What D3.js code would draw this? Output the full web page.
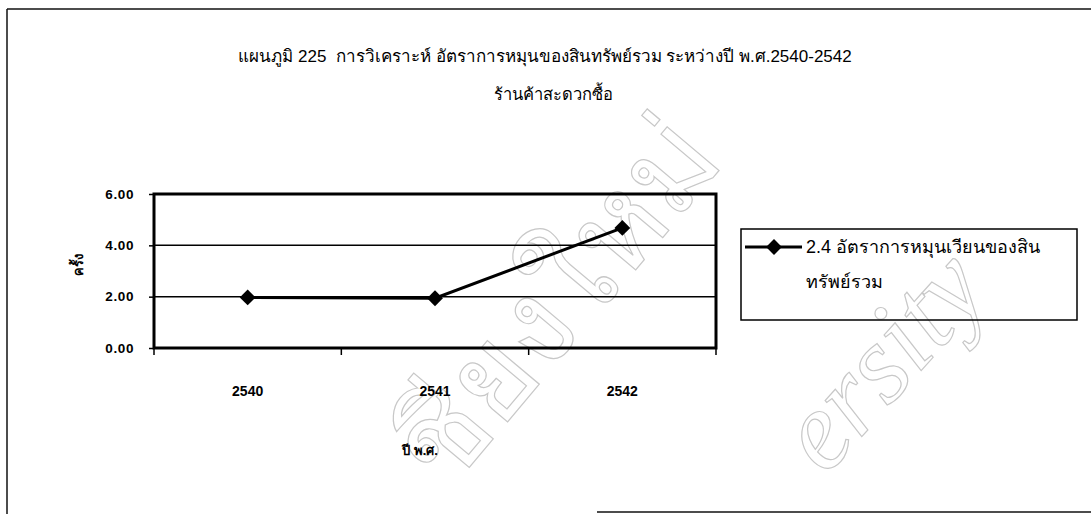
<!DOCTYPE html>
<html>
<head>
<meta charset="utf-8">
<script src="https://cdn.jsdelivr.net/npm/d3@7"></script>
<style>
  html, body { margin: 0; padding: 0; background: #fff; }
  svg { display: block; }
  text { font-family: Arial, "Liberation Sans", "Noto Sans", sans-serif; fill: #000; white-space: pre; }
</style>
</head>
<body>
<svg id="chart" width="1091" height="514"></svg>
<script>
// Years (Buddhist era) on the x axis
const years = ["2540", "2541", "2542"];
// Total asset turnover ratio (times)
const turnover = [1.97, 1.94, 4.68];
// y-axis tick values
const yTicks = [0, 2, 4, 6];

const titleText = "แผนภูมิ 225  การวิเคราะห์ อัตราการหมุนของสินทรัพย์รวม ระหว่างปี พ.ศ.2540-2542";
const subtitleText = "ร้านค้าสะดวกซื้อ";
const seriesName = ["2.4 อัตราการหมุนเวียนของสิน", "ทรัพย์รวม"];
const xTitle = "ปี พ.ศ.";
const yTitle = "ครั้ง";
const watermarkTh = "ชียงใหม่";
const watermarkEn = "ersity";

const svg = d3.select("#chart");

// page frame
const frame = svg.append("g").attr("stroke", "#111").attr("stroke-width", 1.5).attr("fill", "none");
frame.append("line").attr("x1", 7).attr("y1", 9).attr("x2", 1091).attr("y2", 9);
frame.append("line").attr("x1", 7).attr("y1", 9).attr("x2", 7).attr("y2", 514);
frame.append("line").attr("x1", 597).attr("y1", 512).attr("x2", 1091).attr("y2", 512);

// faint outlined watermark
const wm = svg.append("g");
wm.append("text")
  .attr("transform", "translate(726,162) rotate(-50)")
  .attr("text-anchor", "end")
  .style("font-size", "122px")
  .style("fill", "none").style("stroke", "#c8c8c8").style("stroke-width", 1.2)
  .text(watermarkTh);
wm.append("text")
  .attr("transform", "translate(992,292) rotate(-48)")
  .attr("text-anchor", "end")
  .style("font-family", "'Liberation Serif', serif")
  .style("font-style", "italic")
  .style("font-size", "112px")
  .style("fill", "none").style("stroke", "#c8c8c8").style("stroke-width", 1.2)
  .text(watermarkEn);

// titles
svg.append("text").attr("x", 545).attr("y", 62).attr("text-anchor", "middle")
  .style("font-size", "17px").text(titleText);
svg.append("text").attr("x", 553).attr("y", 100).attr("text-anchor", "middle")
  .style("font-size", "16.5px").text(subtitleText);

// plot area
const plot = { left: 154, right: 716, top: 194, bottom: 348 };
const x = d3.scaleBand().domain(years).range([plot.left, plot.right]);
const y = d3.scaleLinear().domain([0, 6]).range([plot.bottom, plot.top]);

// gridlines
svg.append("g").selectAll("line").data(yTicks.filter(d => d > 0 && d < 6)).join("line")
  .attr("x1", plot.left).attr("x2", plot.right)
  .attr("y1", d => y(d)).attr("y2", d => y(d))
  .attr("stroke", "#000").attr("stroke-width", 1.5);

// y axis
const yAxis = svg.append("g").attr("transform", `translate(${plot.left},0)`)
  .call(d3.axisLeft(y).tickValues(yTicks).tickFormat(d3.format(".2f")).tickSize(5).tickPadding(15));
yAxis.select(".domain").remove();
yAxis.selectAll("line").attr("stroke", "#000").attr("stroke-width", 1.5);
yAxis.selectAll("text").style("font-size", "13.5px").style("font-weight", "bold")
  .style("letter-spacing", "0.6px")
  .style("font-family", "Arial, 'Liberation Sans', sans-serif").attr("fill", "#000");

// x axis labels centred in each band
const xAxis = svg.append("g").attr("transform", `translate(0,${plot.bottom})`)
  .call(d3.axisBottom(x).tickSize(0).tickPadding(38));
xAxis.select(".domain").remove();
xAxis.selectAll("text").style("font-size", "14px").style("font-weight", "bold")
  .style("font-family", "Arial, 'Liberation Sans', sans-serif").attr("fill", "#000");
// x tick marks at band edges
const edges = years.map(d => x(d)).concat([x(years[years.length - 1]) + x.bandwidth()]);
svg.append("g").selectAll("line").data(edges).join("line")
  .attr("x1", d => d).attr("x2", d => d)
  .attr("y1", plot.bottom).attr("y2", plot.bottom + 7)
  .attr("stroke", "#000").attr("stroke-width", 1.5);

// plot border
svg.append("rect")
  .attr("x", plot.left).attr("y", plot.top)
  .attr("width", plot.right - plot.left).attr("height", plot.bottom - plot.top)
  .attr("fill", "none").attr("stroke", "#000").attr("stroke-width", 3);

// series line
const cx = d => x(d) + x.bandwidth() / 2;
const line = d3.line().x((d, i) => cx(years[i])).y(d => y(d));
svg.append("path").datum(turnover).attr("d", line)
  .attr("fill", "none").attr("stroke", "#000").attr("stroke-width", 3);

// diamond markers
const diamond = d3.symbol().type(d3.symbolDiamond2).size(160);
svg.append("g").selectAll("path").data(turnover).join("path")
  .attr("d", diamond)
  .attr("transform", (d, i) => `translate(${cx(years[i])},${y(d)})`)
  .attr("fill", "#000");

// axis titles
svg.append("text").attr("x", 420).attr("y", 455).attr("text-anchor", "middle")
  .style("font-size", "13px").style("font-weight", "bold").text(xTitle);
svg.append("text").attr("transform", "translate(83,265) rotate(-90)").attr("text-anchor", "middle")
  .style("font-size", "13px").style("font-weight", "bold").text(yTitle);

// legend
const lg = svg.append("g");
lg.append("rect").attr("x", 741).attr("y", 229).attr("width", 336).attr("height", 91)
  .attr("fill", "none").attr("stroke", "#000").attr("stroke-width", 1.5);
lg.append("line").attr("x1", 745).attr("x2", 802).attr("y1", 247).attr("y2", 247)
  .attr("stroke", "#000").attr("stroke-width", 3);
lg.append("path").attr("d", diamond).attr("transform", "translate(774,247)").attr("fill", "#000");
lg.append("text").attr("x", 806).attr("y", 253).style("font-size", "18px").text(seriesName[0]);
lg.append("text").attr("x", 806).attr("y", 288).style("font-size", "18px").text(seriesName[1]);
</script>
</body>
</html>
